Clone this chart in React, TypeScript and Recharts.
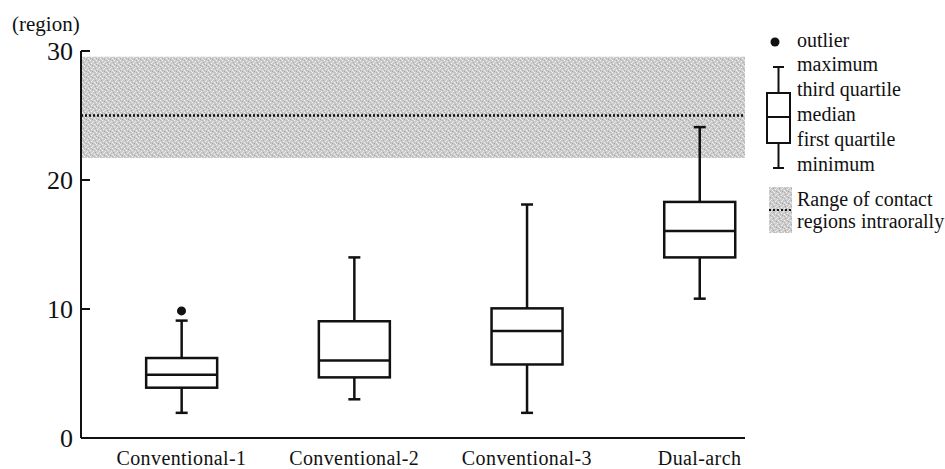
import React from 'react'
import { ComposedChart, Bar, Scatter, XAxis, YAxis, ReferenceArea, ReferenceLine } from 'recharts'

const categories = ['Conventional-1', 'Conventional-2', 'Conventional-3', 'Dual-arch']
const minimums = [1.95, 3.0, 1.95, 10.8]
const firstQuartiles = [3.9, 4.7, 5.7, 14.0]
const medians = [4.9, 6.0, 8.3, 16.05]
const thirdQuartiles = [6.2, 9.05, 10.05, 18.3]
const maximums = [9.1, 14.0, 18.1, 24.1]

const outlierGroups = [1]
const outlierValues = [9.85]

const contactLow = 21.7
const contactHigh = 29.55
const contactMid = 25

const yTicks = [0, 10, 20, 30]

const boxData = categories.map((name, i) => ({
  pos: i + 1,
  name,
  min: minimums[i],
  q1: firstQuartiles[i],
  median: medians[i],
  q3: thirdQuartiles[i],
  max: maximums[i],
  range: [minimums[i], maximums[i]],
}))

const outlierData = outlierGroups.map((g, i) => ({ pos: g, value: outlierValues[i] }))

const serif = "'Liberation Serif', 'Times New Roman', Times, serif"
const ink = '#111'

function BoxShape(props: any) {
  const { x, y, width, height, payload } = props
  const { min, q1, median, q3, max } = payload
  const py = (v: number) => y + ((max - v) / (max - min)) * height
  const cx = x + width / 2
  const cap = 6
  return (
    <g stroke={ink} strokeWidth={2.5}>
      <line x1={cx - cap} x2={cx + cap} y1={py(max)} y2={py(max)} />
      <line x1={cx} x2={cx} y1={py(max)} y2={py(q3)} />
      <rect x={x} y={py(q3)} width={width} height={py(q1) - py(q3)} fill="#fff" />
      <line x1={x} x2={x + width} y1={py(median)} y2={py(median)} />
      <line x1={cx} x2={cx} y1={py(q1)} y2={py(min)} />
      <line x1={cx - cap} x2={cx + cap} y1={py(min)} y2={py(min)} />
    </g>
  )
}

function YTick(props: any) {
  const { x, y, payload } = props
  const axisX = x + 8
  return (
    <g>
      <text x={x} y={y} textAnchor="end" dominantBaseline="central" fill={ink} style={{ fontFamily: serif, fontSize: 26 }}>
        {payload.value}
      </text>
      {payload.value !== 0 && <line x1={axisX} x2={axisX + 9} y1={y} y2={y} stroke={ink} strokeWidth={2} />}
    </g>
  )
}

function XTick(props: any) {
  const { x, y, payload } = props
  return (
    <text x={x} y={y} dy={12} textAnchor="middle" fill={ink} style={{ fontFamily: serif, fontSize: 20, letterSpacing: 0.4 }}>
      {categories[payload.value - 1]}
    </text>
  )
}

const legendRows = [
  { label: 'outlier', y: 47 },
  { label: 'maximum', y: 71 },
  { label: 'third quartile', y: 96 },
  { label: 'median', y: 121 },
  { label: 'first quartile', y: 146 },
  { label: 'minimum', y: 171 },
  { label: 'Range of contact', y: 206 },
  { label: 'regions intraorally', y: 228 },
]

function Overlay() {
  return (
    <svg width={945} height={469} style={{ position: 'absolute', left: 0, top: 0, pointerEvents: 'none' }}>
      <defs>
        <pattern id="speckle" width="6" height="6" patternUnits="userSpaceOnUse">
          <rect width="6" height="6" fill="#cbcbcb" />
          <rect x="0" y="0" width="1" height="1" fill="#f2f2f2" />
          <rect x="3" y="1" width="1" height="1" fill="#ebebeb" />
          <rect x="5" y="2" width="1" height="1" fill="#a8a8a8" />
          <rect x="1" y="3" width="1" height="1" fill="#f0f0f0" />
          <rect x="4" y="4" width="1" height="1" fill="#f4f4f4" />
          <rect x="2" y="5" width="1" height="1" fill="#a4a4a4" />
          <rect x="0" y="4" width="1" height="1" fill="#b0b0b0" />
          <rect x="4" y="0" width="1" height="1" fill="#b4b4b4" />
          <rect x="2" y="2" width="1" height="1" fill="#e6e6e6" />
          <rect x="5" y="5" width="1" height="1" fill="#e8e8e8" />
        </pattern>
      </defs>
      <text x={12} y={31} fill={ink} style={{ fontFamily: serif, fontSize: 21 }}>(region)</text>

      <circle cx={775} cy={42} r={4.5} fill={ink} />
      <g stroke={ink} strokeWidth={2}>
        <line x1={773} x2={784} y1={67} y2={67} />
        <line x1={778.5} x2={778.5} y1={67} y2={93} />
        <rect x={767} y={93} width={23} height={50} fill="#fff" />
        <line x1={767} x2={790} y1={117} y2={117} />
        <line x1={778.5} x2={778.5} y1={143} y2={168} />
        <line x1={773} x2={784} y1={168} y2={168} />
      </g>
      <rect x={769} y={187} width={23} height={46} fill="url(#speckle)" />
      <line x1={769} x2={792} y1={210} y2={210} stroke={ink} strokeWidth={2} strokeDasharray="2 2" />

      {legendRows.map((r) => (
        <text key={r.label} x={797} y={r.y} fill={ink} style={{ fontFamily: serif, fontSize: 20 }}>
          {r.label}
        </text>
      ))}
    </svg>
  )
}

export default function App() {
  return (
    <div style={{ position: 'fixed', left: 0, top: 0, width: 945, height: 469, background: '#fff', fontFamily: serif }}>
      <ComposedChart width={945} height={469} data={boxData} margin={{ top: 51, right: 200, bottom: 0, left: 0 }}>
        <ReferenceArea y1={contactLow} y2={contactHigh} fill="url(#speckle)" fillOpacity={1} stroke="none" />
        <ReferenceLine y={contactMid} stroke={ink} strokeWidth={2.5} strokeDasharray="2 2" />
        <XAxis
          dataKey="pos"
          type="number"
          domain={[0.418, 4.263]}
          allowDataOverflow
          ticks={[1, 2, 3, 4]}
          tickLine={false}
          tickSize={0}
          tickMargin={15}
          height={31}
          axisLine={{ stroke: ink, strokeWidth: 2 }}
          tick={<XTick />}
          interval={0}
        />
        <YAxis
          type="number"
          domain={[0, 30]}
          allowDataOverflow
          ticks={yTicks}
          width={81}
          tickLine={false}
          tickSize={0}
          tickMargin={8}
          axisLine={{ stroke: ink, strokeWidth: 2 }}
          tick={<YTick />}
          interval={0}
        />
        <Bar dataKey="range" barSize={71} shape={<BoxShape />} isAnimationActive={false} />
        <Scatter
          data={outlierData}
          dataKey="value"
          isAnimationActive={false}
          shape={(p: any) => <circle cx={p.cx} cy={p.cy} r={4.5} fill={ink} />}
        />
      </ComposedChart>
      <Overlay />
    </div>
  )
}
